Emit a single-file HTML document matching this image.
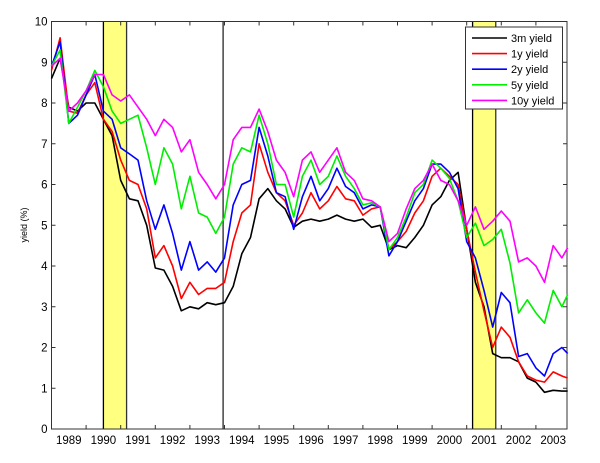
<!DOCTYPE html>
<html><head><meta charset="utf-8"><style>
html,body{margin:0;padding:0;background:#fff;}
svg{display:block;font-family:"Liberation Sans",Arial,sans-serif;}
</style></head><body>
<svg id="chart" width="600" height="463" viewBox="0 0 600 463"></svg>
<script>
const dates=[1989.0,1989.25,1989.5,1989.75,1990.0,1990.25,1990.5,1990.75,1991.0,1991.25,1991.5,1991.75,1992.0,1992.25,1992.5,1992.75,1993.0,1993.25,1993.5,1993.75,1994.0,1994.25,1994.5,1994.75,1995.0,1995.25,1995.5,1995.75,1996.0,1996.25,1996.5,1996.75,1997.0,1997.25,1997.5,1997.75,1998.0,1998.25,1998.5,1998.75,1999.0,1999.25,1999.5,1999.75,2000.0,2000.25,2000.5,2000.75,2001.0,2001.25,2001.5,2001.75,2002.0,2002.25,2002.5,2002.75,2003.0,2003.25,2003.5,2003.75,2003.92];
const y3m=[8.6,9.1,7.9,7.8,8.0,8.0,7.6,7.2,6.1,5.65,5.6,5.0,3.95,3.9,3.5,2.9,3.0,2.95,3.1,3.05,3.1,3.5,4.3,4.7,5.65,5.9,5.6,5.4,4.95,5.1,5.15,5.1,5.15,5.25,5.15,5.1,5.15,4.95,5.0,4.4,4.5,4.45,4.7,5.0,5.5,5.7,6.1,6.3,4.9,3.6,3.0,1.85,1.75,1.75,1.65,1.25,1.15,0.9,0.95,0.93,0.93];
const y1y=[8.8,9.6,7.8,7.75,8.2,8.5,7.6,7.3,6.6,6.1,6.0,5.4,4.2,4.5,4.0,3.2,3.6,3.3,3.45,3.45,3.6,4.6,5.3,5.5,7.0,6.3,5.8,5.6,5.0,5.3,5.8,5.4,5.6,5.95,5.65,5.6,5.25,5.4,5.45,4.4,4.6,4.85,5.3,5.6,6.2,6.4,6.2,6.0,4.9,3.85,2.9,2.0,2.5,2.25,1.65,1.3,1.2,1.15,1.4,1.3,1.25];
const y2y=[8.9,9.5,7.5,7.7,8.2,8.7,7.8,7.6,6.9,6.75,6.6,5.6,4.9,5.5,4.8,3.9,4.6,3.9,4.1,3.85,4.2,5.5,6.0,6.1,7.4,6.7,5.8,5.7,4.9,5.7,6.2,5.6,5.9,6.4,5.95,5.8,5.4,5.5,5.45,4.25,4.6,5.1,5.6,5.9,6.5,6.5,6.3,5.9,4.6,4.2,3.4,2.5,3.35,3.1,1.78,1.85,1.5,1.3,1.85,2.0,1.85];
const y5y=[8.9,9.3,7.5,7.9,8.3,8.8,8.4,7.8,7.5,7.6,7.7,6.9,6.0,6.9,6.5,5.4,6.2,5.3,5.2,4.8,5.2,6.5,6.9,6.8,7.7,7.0,6.0,6.0,5.2,6.2,6.6,6.0,6.2,6.7,6.2,5.9,5.5,5.55,5.45,4.4,4.7,5.2,5.8,6.0,6.6,6.4,6.15,5.6,4.7,5.05,4.5,4.65,4.9,4.07,2.85,3.17,2.85,2.6,3.4,3.0,3.3];
const y10y=[8.9,9.1,7.8,8.0,8.3,8.7,8.7,8.2,8.05,8.2,7.9,7.6,7.2,7.6,7.4,6.8,7.1,6.3,6.0,5.65,6.0,7.1,7.4,7.4,7.85,7.3,6.6,6.3,5.7,6.6,6.8,6.3,6.6,6.9,6.3,6.1,5.65,5.6,5.45,4.6,4.8,5.4,5.9,6.1,6.5,6.1,6.0,5.6,5.0,5.45,4.9,5.1,5.35,5.1,4.1,4.2,4.0,3.6,4.5,4.2,4.45];
const seriesNames=["3m yield","1y yield","2y yield","5y yield","10y yield"];
const seriesColors=["#000000","#ff0000","#0000ff","#00ee00","#ff00ff"];
const yTicks=[0,1,2,3,4,5,6,7,8,9,10];
const yearLabels=[1989,1990,1991,1992,1993,1994,1995,1996,1997,1998,1999,2000,2001,2002,2003];
const recessions=[[1990.5,1991.17],[2001.17,2001.84]];
const markerLine=1993.96;

const NS="http://www.w3.org/2000/svg";
const svg=document.getElementById('chart');
const L=51.5,R=567,T=21.5,B=429;
const xs=t=>L+(t-1989)*34.6;
const ys=v=>B-v*(B-T)/10;
function mk(tag,attrs,parent){const e=document.createElementNS(NS,tag);for(const k in attrs)e.setAttribute(k,attrs[k]);(parent||svg).appendChild(e);return e;}

recessions.forEach((r,i)=>{
  const g=mk('g',{});
  
  
  mk('rect',{x:xs(r[0]),y:T,width:xs(r[1])-xs(r[0]),height:B-T,fill:'#ffff80'},g);
  mk('line',{x1:xs(r[0]),x2:xs(r[0]),y1:T,y2:B,stroke:'#000','stroke-width':1.3},g);
  mk('line',{x1:xs(r[1]),x2:xs(r[1]),y1:T,y2:B,stroke:'#333','stroke-width':1.3},g);
});
const ml=mk('line',{x1:xs(markerLine),x2:xs(markerLine),y1:T,y2:B,stroke:'#444','stroke-width':1.5});



const fr=mk('rect',{x:L,y:T,width:R-L,height:B-T,fill:'none',stroke:'#333','stroke-width':1});


yTicks.forEach(v=>{
  const y=ys(v);
  mk('line',{x1:L,x2:L+4,y1:y,y2:y,stroke:'#333'});
  mk('line',{x1:R-4,x2:R,y1:y,y2:y,stroke:'#333'});
  const t=mk('text',{x:L-4,y:y+4,'text-anchor':'end','font-size':11.5,fill:'#000'});
  t.textContent=v;
  
  
});
yearLabels.forEach(yr=>{
  if(yr>1989){const x=xs(yr);
    mk('line',{x1:x,x2:x,y1:B,y2:B-4,stroke:'#333'});
    mk('line',{x1:x,x2:x,y1:T,y2:T+4,stroke:'#333'});}
  const t=mk('text',{x:xs(yr+0.5),y:B+15,'text-anchor':'middle','font-size':11.5,fill:'#000'});
  t.textContent=yr;
  
  
});
const yl=mk('text',{x:0,y:0,transform:'translate(27,225) rotate(-90)','text-anchor':'middle','font-size':9,fill:'#000'});
yl.textContent='yield (%)';



const data=[y3m,y1y,y2y,y5y,y10y];
data.forEach((s,i)=>{
  const d=s.map((v,j)=>(j?'L':'M')+xs(dates[j]).toFixed(1)+','+ys(v).toFixed(1)).join('');
  const p=mk('path',{d:d,fill:'none',stroke:seriesColors[i],'stroke-width':1.6,'stroke-linejoin':'round'});
  
  
});

const lg=mk('g',{});


mk('rect',{x:465.5,y:27,width:97,height:82,fill:'#fff',stroke:'#333','stroke-width':1},lg);
seriesNames.forEach((n,i)=>{
  const y=38+i*15.6;
  const e=mk('g',{},lg);
  
  
  mk('line',{x1:472,x2:507,y1:y,y2:y,stroke:seriesColors[i],'stroke-width':1.6},e);
  const t=mk('text',{x:511,y:y+4,'font-size':11,fill:'#000'},e);
  t.textContent=n;
});
</script>
</body></html>
